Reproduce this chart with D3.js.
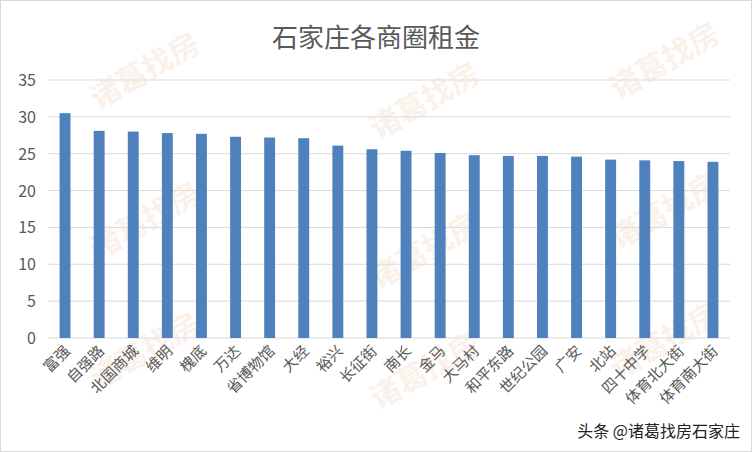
<!DOCTYPE html>
<html><head><meta charset="utf-8">
<script src="https://cdn.jsdelivr.net/npm/d3@7/dist/d3.min.js"></script>
<style>body{margin:0;background:#fff}</style></head>
<body><svg id="c" width="752" height="452"></svg>
<script>
const categories=["富强","自强路","北国商城","维明","槐底","万达","省博物馆","大经","裕兴","长征街","南长","金马","大马村","和平东路","世纪公园","广安","北站","四十中学","体育北大街","体育南大街"];
const values=[30.5,28.1,28.0,27.8,27.7,27.3,27.2,27.1,26.1,25.6,25.4,25.1,24.8,24.7,24.7,24.6,24.2,24.1,24.0,23.9];
const yTicks=[0,5,10,15,20,25,30,35];
const svg=d3.select("#c");
const font="'Noto Sans CJK SC','Noto Sans',sans-serif";
svg.append("rect").attr("x",0.5).attr("y",0.5).attr("width",751).attr("height",451).attr("fill","#fff").attr("stroke","#d9d9d9");
const x=d3.scaleBand().domain(categories).range([48,730]).paddingInner(0.68).paddingOuter(0.34);
const y=d3.scaleLinear().domain([0,35]).range([338,80]);
svg.append("g").selectAll("line").data(yTicks).join("line")
 .attr("x1",48).attr("x2",730).attr("y1",d=>y(d)).attr("y2",d=>y(d)).attr("stroke","#d9d9d9");
svg.append("g").selectAll("text").data(yTicks).join("text")
 .attr("x",36).attr("y",d=>y(d)+6).attr("text-anchor","end").attr("font-family",font).attr("font-size",16).attr("fill","#595959").text(d=>d);
const wm=[[150,80],[430,110],[670,70],[150,230],[430,260],[670,220],[150,360],[430,380],[670,350]];
svg.append("g").selectAll("text").data(wm).join("text")
 .attr("transform",d=>`translate(${d[0]},${d[1]}) rotate(-30)`).attr("text-anchor","middle")
 .attr("font-family",font).attr("font-size",30).attr("font-weight","bold").attr("fill","#f5e2d2").attr("opacity",0.45).text("诸葛找房");
svg.append("g").selectAll("rect").data(values).join("rect")
 .attr("x",(d,i)=>x(categories[i])).attr("width",x.bandwidth())
 .attr("y",d=>y(d)).attr("height",d=>y(0)-y(d)).attr("fill","#4f81bd");
svg.append("g").selectAll("text").data(categories).join("text")
 .attr("transform",d=>`translate(${x(d)+x.bandwidth()/2+6},${352}) rotate(-45)`)
 .attr("text-anchor","end").attr("font-family",font).attr("font-size",15).attr("fill","#595959").text(d=>d);
svg.append("text").attr("x",376).attr("y",47).attr("text-anchor","middle").attr("font-family",font).attr("font-size",26).attr("fill","#595959").text("石家庄各商圈租金");
svg.append("text").attr("x",740).attr("y",437).attr("text-anchor","end").attr("font-family",font).attr("font-size",16).attr("fill","#222").text("头条 @诸葛找房石家庄");
</script></body></html>
